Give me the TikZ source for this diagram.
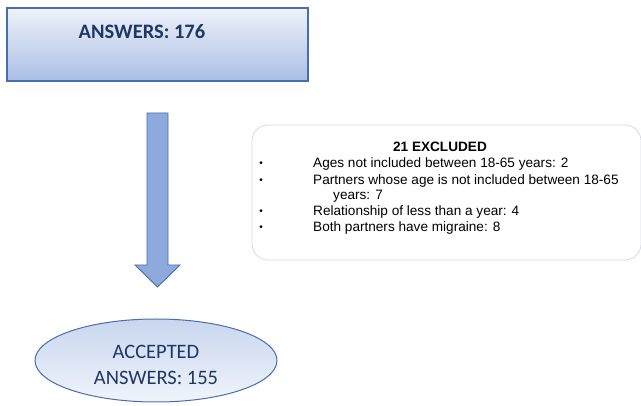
\documentclass[tikz,border=0pt]{standalone}
\usepackage{fontspec}
\newfontfamily\calfont{Carlito}
\newfontfamily\arialfont{Liberation Sans}
\definecolor{navy}{HTML}{1F3763}
\definecolor{edgeblue}{HTML}{4A6DAE}
\definecolor{arrowfill}{HTML}{8EA9DB}
\definecolor{boxedge}{HTML}{D0DAEC}
\tikzset{
  x=1pt, y=1pt,
  topbox/.style={draw=edgeblue, line width=1.2pt, top color={rgb,255:red,238;green,242;blue,250}, bottom color={rgb,255:red,170;green,190;blue,228}, minimum width=301pt, minimum height=73pt, inner sep=0pt},
  okellipse/.style={ellipse, draw=edgeblue, line width=1pt, top color={rgb,255:red,200;green,214;blue,238}, bottom color={rgb,255:red,240;green,244;blue,251}, minimum width=242pt, minimum height=83pt, inner sep=0pt},
  navytext/.style={text=navy, font=\calfont\fontsize{20.5}{24}\selectfont},
  exbox/.style={draw=boxedge, line width=0.8pt, rounded corners=16pt, fill=white, minimum width=389pt, minimum height=135pt, inner sep=0pt},
  extext/.style={font=\arialfont\fontsize{13.6}{16}\selectfont, anchor=west, inner sep=0pt},
  bullettext/.style={font=\arialfont\fontsize{10}{12}\selectfont, inner sep=0pt},
}
\usetikzlibrary{shapes.geometric}
\begin{document}
\begin{tikzpicture}
\useasboundingbox (0,0) rectangle (641,-406);
% top box
\node[topbox] (answers) at (157.5,-44.5) {};
\node[navytext, font=\calfont\bfseries\fontsize{20.5}{24}\selectfont] (answerstext) at (142,-32) {ANSWERS: 176};
% arrow
\draw[draw=edgeblue, fill=arrowfill, line width=0.9pt, line join=miter]
  (147,-113) -- (168,-113) -- (168,-265) -- (180,-265) -- (157.5,-287) -- (135,-265) -- (147,-265) -- cycle;
% excluded box
\node[exbox] (excluded) at (446.5,-192.5) {};
\node[font=\arialfont\bfseries\fontsize{13.6}{16}\selectfont, inner sep=0pt] (extitle) at (440,-147) {21 EXCLUDED};
\node[bullettext] (b1) at (261,-164) {\textbullet};
\node[bullettext] (b2) at (261,-181) {\textbullet};
\node[bullettext] (b3) at (261,-212) {\textbullet};
\node[bullettext] (b4) at (261,-228) {\textbullet};
\node[extext] (l1) at (313,-164) {Ages not included between 18-65 years: 2};
\node[extext] (l2) at (313,-181) {Partners whose age is not included between 18-65};
\node[extext] (l2b) at (333,-196) {years: 7};
\node[extext] (l3) at (313,-212) {Relationship of less than a year: 4};
\node[extext] (l4) at (313,-228) {Both partners have migraine: 8};
% ellipse
\node[okellipse] (accepted) at (156,-360.5) {};
\node[navytext] (acc1) at (156,-352) {ACCEPTED};
\node[navytext] (acc2) at (156,-378) {ANSWERS: 155};
\end{tikzpicture}
\end{document}
